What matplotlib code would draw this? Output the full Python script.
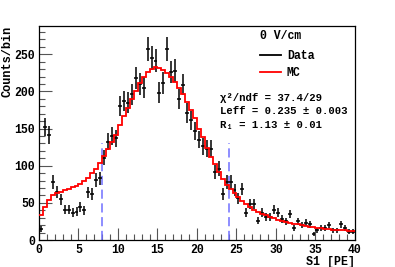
import numpy as np
import matplotlib
matplotlib.use("Agg")
import matplotlib.pyplot as plt
from matplotlib.lines import Line2D
from matplotlib.ticker import MultipleLocator

# 0.5 PE bins from 0 to 40
bin_edges = np.arange(0, 40.01, 0.5)
bin_centers = bin_edges[:-1] + 0.25

data_counts = [
    15, 152, 141, 78, 65, 55, 41, 41, 37, 38,
    45, 40, 64, 62, 81, 83, 111, 132, 140, 137,
    180, 187, 185, 196, 218, 210, 205, 257, 245, 241,
    198, 211, 257, 226, 228, 190, 209, 171, 161, 147,
    135, 126, 123, 123, 92, 96, 62, 78, 78, 67,
    56, 69, 37, 48, 48, 26, 37, 31, 31, 41,
    37, 28, 25, 35, 16, 25, 20, 23, 21, 8,
    13, 16, 16, 20, 13, 13, 21, 16, 11, 11,
]

mc_counts = [
    34, 45, 54, 60, 63, 65, 67, 69, 71, 73,
    76, 79, 84, 90, 96, 103, 113, 122, 132, 141,
    155, 167, 178, 190, 200, 211, 220, 226, 230, 233,
    232, 229, 225, 220, 213, 205, 196, 186, 175, 164,
    150, 138, 124, 112, 102, 91, 82, 74, 68, 63,
    58, 53, 49, 45, 41, 38, 35, 33, 31, 29,
    27, 26, 24, 23, 22, 21, 20, 19, 18, 17,
    16, 16, 15, 15, 14, 14, 13, 13, 12, 12,
]

cut_lo, cut_hi = 8, 24
cut_top = 130

field_label = "0 V/cm"
stats_lines = ["χ²/ndf = 37.4/29", "Leff = 0.235 ± 0.003", "R₁ = 1.13 ± 0.01"]

mono = ["Liberation Mono", "DejaVu Sans Mono"]
plt.rcParams["font.family"] = mono
plt.rcParams["font.weight"] = "bold"

fig = plt.figure(figsize=(3.95, 2.67), dpi=100)
ax = fig.add_axes([0.0987, 0.1011, 0.80, 0.8015])

data_counts = np.array(data_counts, dtype=float)
ax.errorbar(bin_centers, data_counts, xerr=0.25, yerr=np.sqrt(data_counts),
            fmt="none", ecolor="black", elinewidth=1.1, capsize=0, zorder=3)
ax.stairs(mc_counts, bin_edges, baseline=None, color="red", linewidth=1.3, zorder=4)

for xc in (cut_lo, cut_hi):
    ax.plot([xc, xc], [0, cut_top], color="#6f6fff", linestyle=(0, (6, 3)),
            linewidth=1.1, zorder=2)

ax.set_xlim(0, 40)
ax.set_ylim(0, 288)
ax.xaxis.set_major_locator(MultipleLocator(5))
ax.xaxis.set_minor_locator(MultipleLocator(1))
ax.yaxis.set_major_locator(MultipleLocator(50))
ax.yaxis.set_minor_locator(MultipleLocator(10))
ax.tick_params(which="both", direction="in", top=False, right=False,
               labelsize=8.3, color="#555555")
ax.tick_params(which="major", length=9, width=0.8, pad=3)
ax.tick_params(which="minor", length=4.5, width=0.8)
for s in ax.spines.values():
    s.set_linewidth(0.9)

ax.set_ylabel("Counts/bin", fontsize=8.6, fontweight="bold", loc="top")
ax.yaxis.set_label_coords(-0.082, 1.0)
ax.set_xlabel("S1 [PE]", fontsize=8.4, fontweight="bold", loc="right")
ax.xaxis.set_label_coords(1.0, -0.075)

ax.text(0.765, 0.955, field_label, transform=ax.transAxes, fontsize=8.3,
        fontweight="bold", ha="center", va="center")

handles = [Line2D([], [], color="black", linewidth=1.3),
           Line2D([], [], color="red", linewidth=1.3)]
ax.legend(handles, ["Data", "MC"], loc="upper left", bbox_to_anchor=(0.697, 0.895),
          frameon=False, handlelength=1.8, handletextpad=0.5,
          labelspacing=0.45, borderaxespad=0, borderpad=0.1,
          prop={"family": mono, "weight": "bold", "size": 8.3})

for i, line in enumerate(stats_lines):
    ax.text(0.574, 0.665 - i * 0.063, line, transform=ax.transAxes, fontsize=7.7,
            fontweight="bold", ha="left", va="center")

fig.savefig("out.png", dpi=100)
